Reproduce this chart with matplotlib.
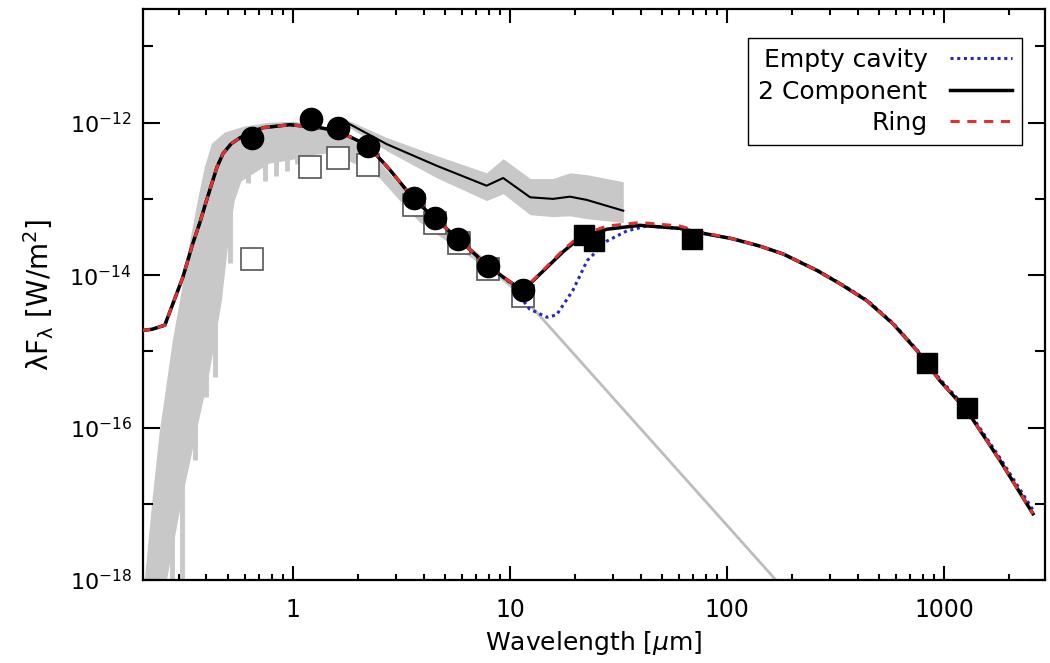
import numpy as np
import matplotlib
matplotlib.use("Agg")
import matplotlib.pyplot as plt
from matplotlib.ticker import FixedLocator, FixedFormatter, LogLocator, NullFormatter

# ---- data (wavelength in micron, lambda*F_lambda in W/m^2) ----

# photometry
phot_wl = [0.65, 1.21, 1.61, 2.22, 3.6, 4.5, 5.76, 7.9, 11.5]
phot_flux = [6.2e-13, 1.13e-12, 8.6e-13, 5.0e-13, 1.04e-13, 5.6e-14, 3.0e-14, 1.33e-14, 6.3e-15]

# long wavelength photometry (squares)
fir_wl = [22.0, 24.5, 69.0, 835.0, 1277.0]
fir_flux = [3.4e-14, 2.8e-14, 3.0e-14, 7.1e-16, 1.83e-16]

# open squares
open_wl = [0.65, 1.2, 1.61, 2.22, 3.6, 4.5, 5.8, 7.9, 11.5]
open_flux = [1.65e-14, 2.6e-13, 3.4e-13, 2.8e-13, 8.2e-14, 4.8e-14, 2.6e-14, 1.2e-14, 5.3e-15]

# stellar photosphere spectrum: envelopes
spec_wl_up = [0.208, 0.226, 0.244, 0.257, 0.280, 0.302, 0.335, 0.365, 0.393, 0.424, 0.486, 0.60,
              0.78, 1.02, 1.33, 1.65, 2.26, 3.11, 3.85, 5.3, 8.1, 11.6]
spec_up = [1e-18, 1.2e-17, 9.1e-17, 2.5e-16, 1.4e-15, 4.6e-15, 2.6e-14, 9.5e-14, 2.6e-13, 5.3e-13,
           7.4e-13, 8.9e-13, 1.0e-12, 1.03e-12, 9.1e-13, 7.4e-13, 4.3e-13, 1.5e-13, 8.2e-14, 3.8e-14,
           1.45e-14, 5.4e-15]
spec_wl_lo = [0.263, 0.308, 0.361, 0.415, 0.447, 0.471, 0.50, 0.54, 0.58, 0.67, 0.78,
              0.97, 1.2, 1.48, 2.04, 2.52, 3.11, 3.85, 5.3, 8.1, 11.6]
spec_lo = [1e-18, 1.1e-17, 9.1e-17, 5.6e-16, 1.9e-15, 4.6e-15, 2.1e-14, 9.5e-14, 1.7e-13, 2.2e-13, 2.9e-13,
           3.2e-13, 3.7e-13, 4.0e-13, 2.7e-13, 1.85e-13, 9.5e-14, 4.9e-14, 2.6e-14, 1.15e-14, 4.8e-15]

# absorption features in the stellar spectrum
line_wl = [0.277, 0.308, 0.353, 0.40, 0.437, 0.513, 0.62, 0.743, 0.84, 0.94, 1.04, 1.14]
line_top = [2.8e-17, 5e-17, 2.2e-16, 1.4e-15, 2.5e-15, 9.5e-14, 3.2e-13, 3.2e-13, 3.2e-13, 3.3e-13, 3.4e-13, 3.6e-13]
line_bot = [1e-18, 1e-18, 3.7e-17, 2.5e-16, 4.6e-16, 1.45e-14, 1.6e-13, 1.7e-13, 2.0e-13, 2.35e-13, 2.9e-13, 3.2e-13]

# Rayleigh-Jeans tail of photosphere
rj_wl = [11.6, 168.0]
rj_flux = [5.0e-15, 1.0e-18]

# IRS spectrum with uncertainty band
irs_wl = [1.65, 2.70, 4.59, 7.81, 9.31, 12.4, 15.8, 18.9, 22.6, 33.3]
irs_flux = [1.12e-12, 5.25e-13, 2.73e-13, 1.49e-13, 1.88e-13, 1.05e-13, 1.0e-13, 1.07e-13, 9.7e-14, 7.0e-14]
irs_hi = [1.2e-12, 6.4e-13, 3.7e-13, 2.2e-13, 3.37e-13, 1.85e-13, 1.85e-13, 2.2e-13, 2.08e-13, 1.68e-13]
irs_lo = [1.03e-12, 4.3e-13, 1.9e-13, 9.5e-14, 1.17e-13, 6.2e-14, 5.85e-14, 6.0e-14, 5.5e-14, 4.9e-14]

# models
model_wl = [0.20, 0.225, 0.257, 0.28, 0.311, 0.346, 0.373, 0.40, 0.447, 0.476, 0.52, 0.57, 0.65,
            0.73, 0.97, 1.33, 1.61, 2.22, 2.8, 3.6, 4.5, 5.76, 7.9, 9.8, 11.5, 14.8, 17.5, 21.0,
            28.0, 39.7, 60.7, 75.0, 106.0, 142.0, 181.0, 260.0, 332.0, 442.0, 582.0, 751.0,
            959.0, 1277.0, 1811.0, 2570.0]
comp2_flux = [1.87e-15, 1.95e-15, 2.2e-15, 4.2e-15, 9.3e-15, 2.6e-14, 4.9e-14, 9.5e-14, 2.6e-13,
              3.9e-13, 5.3e-13, 6.3e-13, 7.6e-13, 8.6e-13, 9.4e-13, 8.6e-13, 7.8e-13, 5.0e-13,
              2.4e-13, 1.0e-13, 5.6e-14, 3.0e-14, 1.33e-14, 8.5e-15, 6.3e-15, 1.26e-14, 2.0e-14,
              3.1e-14, 4.0e-14, 4.5e-14, 4.1e-14, 3.6e-14, 3.0e-14, 2.4e-14, 1.9e-14, 1.15e-14,
              7.7e-15, 4.6e-15, 2.3e-15, 1.02e-15, 4.1e-16, 1.66e-16, 3.7e-17, 7.4e-18]
ring_flux = [1.87e-15, 1.95e-15, 2.2e-15, 4.2e-15, 9.3e-15, 2.6e-14, 4.9e-14, 9.5e-14, 2.6e-13,
             3.9e-13, 5.3e-13, 6.3e-13, 7.6e-13, 8.6e-13, 9.4e-13, 8.6e-13, 7.8e-13, 5.0e-13,
             2.4e-13, 1.0e-13, 5.6e-14, 3.0e-14, 1.33e-14, 8.5e-15, 6.3e-15, 1.3e-14, 2.1e-14,
             3.3e-14, 4.4e-14, 4.9e-14, 4.4e-14, 3.7e-14, 3.0e-14, 2.4e-14, 1.9e-14, 1.15e-14,
             7.7e-15, 4.6e-15, 2.3e-15, 1.02e-15, 4.1e-16, 1.66e-16, 3.7e-17, 7.4e-18]
cavity_wl = [0.20, 0.225, 0.257, 0.28, 0.311, 0.346, 0.373, 0.40, 0.447, 0.476, 0.52, 0.57, 0.65,
             0.73, 0.97, 1.33, 1.61, 2.22, 2.8, 3.6, 4.5, 5.76, 7.9, 10.0, 12.3, 14.8, 16.4, 19.5,
             22.7, 28.0, 34.6, 42.6, 60.7, 75.0, 106.0, 142.0, 181.0, 260.0, 332.0, 442.0, 582.0,
             751.0, 959.0, 1277.0, 1811.0, 2570.0]
cavity_flux = [1.87e-15, 1.95e-15, 2.2e-15, 4.2e-15, 9.3e-15, 2.6e-14, 4.9e-14, 9.5e-14, 2.6e-13,
               3.9e-13, 5.3e-13, 6.3e-13, 7.6e-13, 8.6e-13, 9.4e-13, 8.6e-13, 7.8e-13, 5.0e-13,
               2.4e-13, 1.0e-13, 5.6e-14, 3.0e-14, 1.33e-14, 8.0e-15, 3.6e-15, 2.8e-15, 3.0e-15,
               6.3e-15, 1.55e-14, 2.8e-14, 3.8e-14, 4.4e-14, 4.1e-14, 3.6e-14, 3.0e-14, 2.4e-14,
               1.9e-14, 1.16e-14, 7.8e-15, 4.7e-15, 2.35e-15, 1.05e-15, 4.3e-16, 1.75e-16, 4.0e-17,
               8.3e-18]

xtick_vals = [1, 10, 100, 1000]
xtick_labels = ["1", "10", "100", "1000"]
ytick_vals = [1e-18, 1e-16, 1e-14, 1e-12]
ytick_labels = [r"$10^{-18}$", r"$10^{-16}$", r"$10^{-14}$", r"$10^{-12}$"]

# ---- plot ----
fig = plt.figure(figsize=(10.5, 6.63), dpi=100)
ax = fig.add_axes([143 / 1050, 1 - 580 / 663, 902 / 1050, 571 / 663])
ax.set_xscale("log")
ax.set_yscale("log")

grey = "#c8c8c8"

# stellar spectrum
ax.fill(spec_wl_up + spec_wl_lo[::-1], spec_up + spec_lo[::-1], color=grey, lw=0, zorder=1)
ax.vlines(line_wl, line_bot, line_top, color=grey, lw=3.5, zorder=1)
ax.plot(rj_wl, rj_flux, color="#bdbdbd", lw=2, zorder=1)

# IRS spectrum
ax.fill_between(irs_wl, irs_lo, irs_hi, color=grey, lw=0, zorder=1)
ax.plot(irs_wl, irs_flux, color="black", lw=1.5, zorder=2)

ax.plot(open_wl, open_flux, "s", ms=16, mfc="white", mec="#555555", mew=1.2, zorder=2)

# models
ax.plot(cavity_wl, cavity_flux, color="#2828b8", lw=2.2, ls=(0, (1, 1.2)), zorder=3,
        label="Empty cavity")
ax.plot(model_wl, comp2_flux, color="black", lw=2.5, zorder=4, label="2 Component")
ax.plot(model_wl, ring_flux, color="#e03030", lw=2.2, ls=(0, (3, 2.5)), zorder=5, label="Ring")

ax.plot(phot_wl, phot_flux, "o", ms=16, color="black", zorder=6)
ax.plot(fir_wl, fir_flux, "s", ms=15, color="black", zorder=6)

ax.set_xlim(0.204, 2920)
ax.set_ylim(1e-18, 3.1e-11)

ax.xaxis.set_major_locator(FixedLocator(xtick_vals))
ax.xaxis.set_major_formatter(FixedFormatter(xtick_labels))
ax.xaxis.set_minor_locator(LogLocator(base=10, subs=np.arange(2, 10)))
ax.xaxis.set_minor_formatter(NullFormatter())
ax.yaxis.set_major_locator(FixedLocator(ytick_vals))
ax.yaxis.set_major_formatter(FixedFormatter(ytick_labels))
ax.yaxis.set_minor_locator(FixedLocator([1e-17, 1e-15, 1e-13, 1e-11]))
ax.yaxis.set_minor_formatter(NullFormatter())

ax.tick_params(which="both", direction="in", top=True, right=True, width=1.5)
ax.tick_params(axis="x", which="major", length=10, pad=13, labelsize=17)
ax.tick_params(axis="x", which="minor", length=4.5)
ax.tick_params(axis="y", which="major", length=12, pad=8, labelsize=16)
ax.tick_params(axis="y", which="minor", length=7)
for s in ax.spines.values():
    s.set_linewidth(1.6)

ax.set_xlabel(r"Wavelength [$\mu$m]", fontsize=18, labelpad=5)
ax.set_ylabel(r"λF$_{\mathrm{\lambda}}$ [W/m$^2$]", fontsize=20, labelpad=10)

leg = ax.legend(loc="upper right", bbox_to_anchor=(0.975, 0.949), borderaxespad=0,
                markerfirst=False, fontsize=18, handlelength=2.5, handletextpad=0.9,
                labelspacing=0.3, borderpad=0.4, fancybox=False, framealpha=1,
                edgecolor="black")
leg.get_frame().set_linewidth(1.0)

plt.savefig("out.png", dpi=100)
